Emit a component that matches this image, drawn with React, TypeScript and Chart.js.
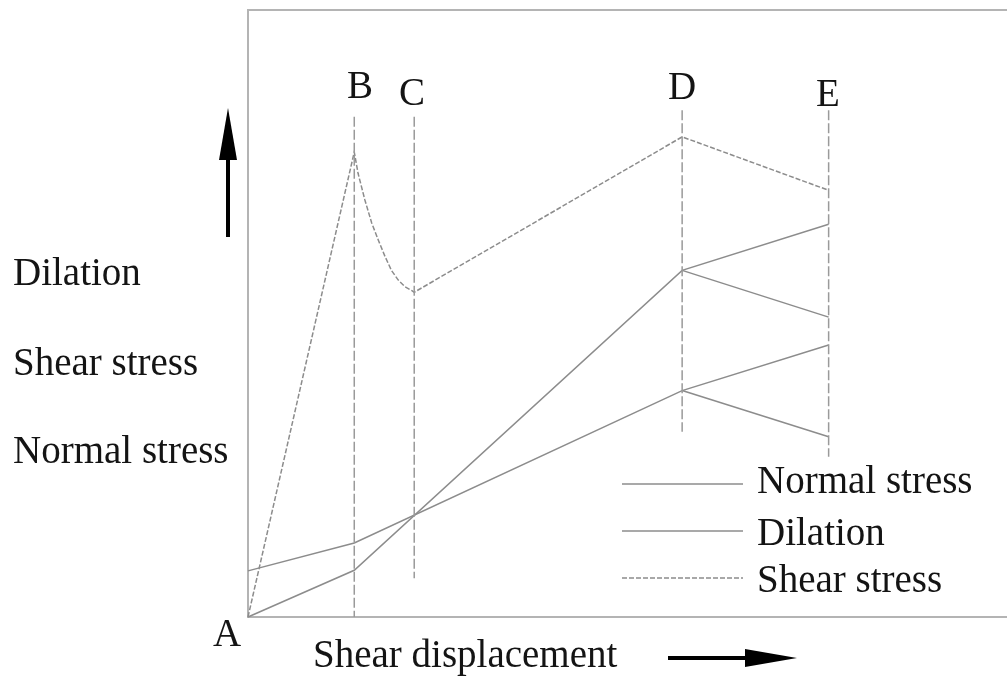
import React, { useEffect, useRef } from "react";
import { Chart, registerables } from "chart.js";

Chart.register(...registerables);

// Stage markers along the shear-displacement axis (A..E)
const markerLabels = ["A", "B", "C", "D", "E"];
const markerX = [0, 14.0, 21.9, 57.2, 76.5];
// Vertical guide extents at B, C, D, E
const guideTop = [82.4, 82.4, 83.5, 83.5];
const guideBottom = [0, 6.4, 30.5, 26.4];

// Shear stress (peak at B, softening to C, rises to D, drops to E)
const shearX = [0, 14.0, 14.5, 15.4, 16.3, 17.2, 18.05, 18.9, 19.8, 20.7, 21.55, 21.9, 57.2, 76.5];
const shearY = [0, 76.6, 73.1, 68.7, 64.9, 62.0, 59.4, 57.1, 55.5, 54.4, 53.8, 53.5, 79.1, 70.3];

// Dilation
const dilationX = [0, 14.0, 57.2, 76.5];
const dilationY = [0, 7.7, 57.1, 64.7];
const dilationBranchX = [57.2, 76.5];
const dilationBranchY = [57.1, 49.4];

// Normal stress
const normalX = [0, 14.0, 57.2, 76.5];
const normalY = [7.6, 12.2, 37.3, 44.8];
const normalBranchX = [57.2, 76.5];
const normalBranchY = [37.3, 29.7];

const axisLabels = ["Dilation", "Shear stress", "Normal stress"];
const legendLabels = ["Normal stress", "Dilation", "Shear stress"];
const xAxisTitle = "Shear displacement";

const LINE = "#8c8c8c";
const FONT = "39px 'Liberation Serif', 'Times New Roman', serif";

function pts(xs: number[], ys: number[]) {
  return xs.map((x, i) => ({ x, y: ys[i] }));
}

const decorPlugin = {
  id: "decor",
  beforeDatasetsDraw(chart: any) {
    const { ctx, chartArea } = chart;
    ctx.save();
    ctx.strokeStyle = "#b4b4b4";
    ctx.lineWidth = 2;
    ctx.beginPath();
    ctx.moveTo(chartArea.right + 5, chartArea.top);
    ctx.lineTo(chartArea.left, chartArea.top);
    ctx.lineTo(chartArea.left, chartArea.bottom);
    ctx.lineTo(chartArea.right + 5, chartArea.bottom);
    ctx.stroke();
    ctx.restore();
  },
  afterDraw(chart: any) {
    const { ctx } = chart;
    ctx.save();
    ctx.fillStyle = "#141414";
    ctx.font = FONT;
    ctx.textBaseline = "alphabetic";

    // stage letters
    ctx.textAlign = "center";
    const letterPos: [number, number][] = [
      [227, 646],
      [360, 98],
      [412, 105],
      [682, 99],
      [828, 106],
    ];
    markerLabels.forEach((l, i) => ctx.fillText(l, letterPos[i][0], letterPos[i][1]));

    // left labels
    ctx.textAlign = "left";
    const leftBase = [285, 375, 463];
    axisLabels.forEach((l, i) => ctx.fillText(l, 13, leftBase[i]));

    // x axis title
    ctx.fillText(xAxisTitle, 313, 667);

    // legend
    const legBase = [493, 545, 592];
    const legLineY = [484, 531, 578];
    legendLabels.forEach((l, i) => {
      ctx.fillText(l, 757, legBase[i]);
      ctx.save();
      ctx.strokeStyle = LINE;
      ctx.lineWidth = 1.5;
      if (i === 2) ctx.setLineDash([5, 2]);
      ctx.beginPath();
      ctx.moveTo(622, legLineY[i]);
      ctx.lineTo(743, legLineY[i]);
      ctx.stroke();
      ctx.restore();
    });

    // arrows
    ctx.strokeStyle = "#000";
    ctx.fillStyle = "#000";
    ctx.lineWidth = 4;
    ctx.beginPath();
    ctx.moveTo(228, 237);
    ctx.lineTo(228, 156);
    ctx.stroke();
    ctx.beginPath();
    ctx.moveTo(228, 108);
    ctx.lineTo(219, 160);
    ctx.lineTo(237, 160);
    ctx.closePath();
    ctx.fill();

    ctx.beginPath();
    ctx.moveTo(668, 658);
    ctx.lineTo(749, 658);
    ctx.stroke();
    ctx.beginPath();
    ctx.moveTo(797, 658);
    ctx.lineTo(745, 649);
    ctx.lineTo(745, 667);
    ctx.closePath();
    ctx.fill();
    ctx.restore();
  },
};

export default function App() {
  const ref = useRef<HTMLCanvasElement | null>(null);

  useEffect(() => {
    if (!ref.current) return;
    const solid = (data: any[]) => ({
      data,
      borderColor: LINE,
      borderWidth: 1.5,
      pointRadius: 0,
      tension: 0,
      clip: false as any,
    });
    const guides = markerX.slice(1).map((x, i) => ({
      data: [
        { x, y: guideTop[i] },
        { x, y: guideBottom[i] },
      ],
      borderColor: "#9a9a9a",
      borderWidth: 1.5,
      borderDash: [10, 3],
      pointRadius: 0,
      clip: false as any,
    }));
    const chart = new Chart(ref.current, {
      type: "line",
      data: {
        datasets: [
          ...guides,
          { ...solid(pts(shearX, shearY)), borderDash: [5, 2], label: "Shear stress" },
          { ...solid(pts(dilationX, dilationY)), label: "Dilation" },
          { ...solid(pts(dilationBranchX, dilationBranchY)), label: "Dilation branch" },
          { ...solid(pts(normalX, normalY)), label: "Normal stress" },
          { ...solid(pts(normalBranchX, normalBranchY)), label: "Normal branch" },
        ] as any,
      },
      options: {
        animation: false,
        responsive: false,
        parsing: false as any,
        layout: { padding: { left: 248, top: 10, right: 0, bottom: 62 } },
        plugins: { legend: { display: false }, tooltip: { enabled: false } },
        scales: {
          x: { type: "linear", min: 0, max: 100, display: false },
          y: { type: "linear", min: 0, max: 100, display: false },
        },
      },
      plugins: [decorPlugin],
    });
    return () => chart.destroy();
  }, []);

  return (
    <div style={{ position: "absolute", left: 0, top: 0, width: 1007, height: 679, background: "#fff" }}>
      <canvas ref={ref} width={1007} height={679} style={{ display: "block" }} />
    </div>
  );
}
